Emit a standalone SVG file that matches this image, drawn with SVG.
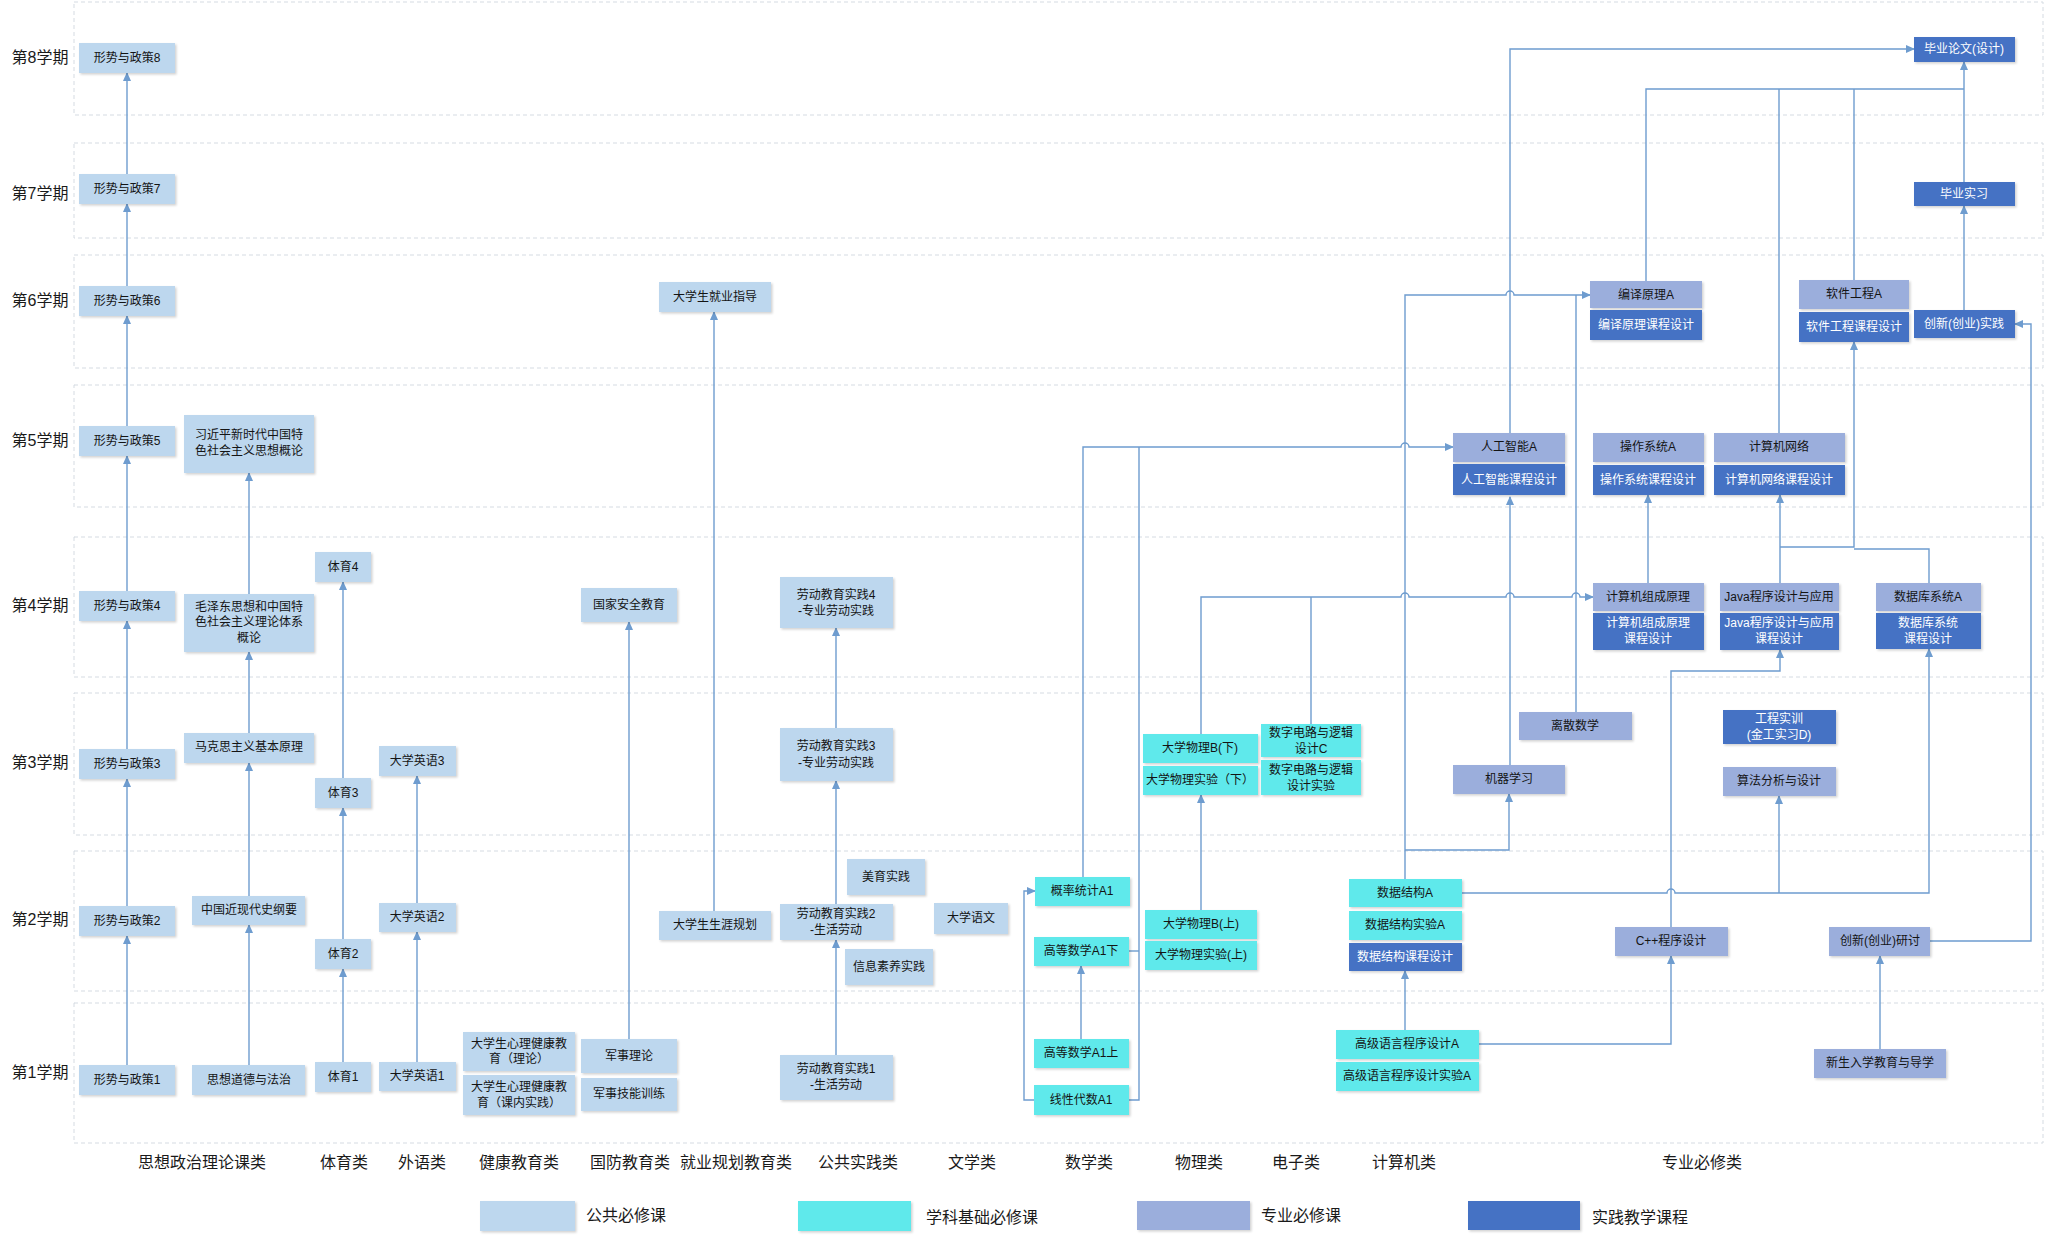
<svg xmlns="http://www.w3.org/2000/svg" width="2048" height="1240" viewBox="0 0 2048 1240">
<defs>
<style>
.band{fill:none;stroke:#D5DBE2;stroke-width:1;stroke-dasharray:4,3}
.pub{fill:#BDD7EE}
.base{fill:#5EE9EB}
.pro{fill:#9BAEDC}
.prac{fill:#4472C4}
rect.n{filter:url(#sh)}
.t{font-family:"Liberation Sans","Noto Sans CJK SC",sans-serif;font-size:12px;fill:#141414;text-anchor:middle;dominant-baseline:central}
.w{fill:#FFFFFF}
.sem{font-family:"Liberation Sans","Noto Sans CJK SC",sans-serif;font-size:16px;fill:#1a1a1a;text-anchor:middle;dominant-baseline:central}
.cat{font-family:"Liberation Sans","Noto Sans CJK SC",sans-serif;font-size:16px;fill:#1a1a1a;text-anchor:middle;dominant-baseline:central}
.leg{font-family:"Liberation Sans","Noto Sans CJK SC",sans-serif;font-size:16px;fill:#1a1a1a;dominant-baseline:central}
.c{fill:none;stroke:#6E9CCF;stroke-width:1.4}
.a{marker-end:url(#ah)}
</style>
<filter id="sh" x="-10%" y="-10%" width="130%" height="140%">
<feDropShadow dx="1.5" dy="1.5" stdDeviation="1" flood-color="#000" flood-opacity="0.18"/>
</filter>
<marker id="ah" markerWidth="9" markerHeight="8" refX="8" refY="4" orient="auto" markerUnits="userSpaceOnUse">
<path d="M0,0 L9,4 L0,8 z" fill="#6E9CCF"/>
</marker>
</defs>
<rect width="2048" height="1240" fill="#FFFFFF"/>

<g id="bands">
<rect class="band" x="74" y="2" width="1969" height="113"/>
<rect class="band" x="74" y="143" width="1969" height="95"/>
<rect class="band" x="74" y="255" width="1969" height="113"/>
<rect class="band" x="74" y="385" width="1969" height="122"/>
<rect class="band" x="74" y="537" width="1969" height="140"/>
<rect class="band" x="74" y="693" width="1969" height="142"/>
<rect class="band" x="74" y="851" width="1969" height="140"/>
<rect class="band" x="74" y="1003" width="1969" height="140"/>
</g>

<g id="semester-labels">
<text class="sem" x="40" y="57">第8学期</text>
<text class="sem" x="40" y="193">第7学期</text>
<text class="sem" x="40" y="300">第6学期</text>
<text class="sem" x="40" y="440">第5学期</text>
<text class="sem" x="40" y="605">第4学期</text>
<text class="sem" x="40" y="762">第3学期</text>
<text class="sem" x="40" y="919">第2学期</text>
<text class="sem" x="40" y="1072">第1学期</text>
</g>

<g id="connectors">
<path class="c a" d="M127,1065 V936"/>
<path class="c a" d="M127,906 V779"/>
<path class="c a" d="M127,749 V621"/>
<path class="c a" d="M127,591 V456"/>
<path class="c a" d="M127,426 V316"/>
<path class="c a" d="M127,286 V204"/>
<path class="c a" d="M127,174 V73"/>
<path class="c a" d="M249,1065 V925"/>
<path class="c a" d="M249,896 V763"/>
<path class="c a" d="M249,733 V652"/>
<path class="c a" d="M249,594 V473"/>
<path class="c a" d="M343,1062 V969"/>
<path class="c a" d="M343,939 V808"/>
<path class="c a" d="M343,778 V582"/>
<path class="c a" d="M417,1062 V932"/>
<path class="c a" d="M417,903 V776"/>
<path class="c a" d="M629,1039 V622"/>
<path class="c a" d="M714,911 V312"/>
<path class="c a" d="M836,1055 V940"/>
<path class="c a" d="M836,904 V781"/>
<path class="c a" d="M836,728 V628"/>
<path class="c a" d="M1081,1039 V966"/>
<path class="c a" d="M1034,1100 H1024 V891 H1035"/>
<path class="c a" d="M1083,877 V447 H1401 a4,4 0 0 1 8,0 H1453"/>
<path class="c" d="M1129,1100 H1139 V447"/>
<path class="c" d="M1129,951 H1139"/>
<path class="c a" d="M1201,910 V795"/>
<path class="c a" d="M1201,734 V597 H1401 a4,4 0 0 1 8,0 H1506 a4,4 0 0 1 8,0 H1572 a4,4 0 0 1 8,0 H1593"/>
<path class="c" d="M1311,724 V597"/>
<path class="c a" d="M1405,1030 V971"/>
<path class="c a" d="M1479,1044 H1671 V956"/>
<path class="c a" d="M1405,879 V295 H1506 a4,4 0 0 1 8,0 H1590"/>
<path class="c a" d="M1405,850 H1509 V794"/>
<path class="c a" d="M1510,765 V497"/>
<path class="c a" d="M1510,433 V49 H1914"/>
<path class="c" d="M1576,712 V295"/>
<path class="c a" d="M1462,893 H1667 a4,4 0 0 1 8,0 H1929 V649"/>
<path class="c a" d="M1779,893 V796"/>
<path class="c a" d="M1671,927 V671 H1780 V650"/>
<path class="c a" d="M1648,583 V495"/>
<path class="c a" d="M1780,583 V495"/>
<path class="c a" d="M1780,547 H1854 V342"/>
<path class="c" d="M1929,583 V549 H1854"/>
<path class="c" d="M1646,281 V89 H1964"/>
<path class="c" d="M1779,433 V89"/>
<path class="c" d="M1854,280 V89"/>
<path class="c a" d="M1964,182 V62"/>
<path class="c a" d="M1964,310 V206"/>
<path class="c a" d="M1930,941 H2031 V324 H2015"/>
<path class="c a" d="M1880,1049 V956"/>
</g>

<g id="n-xszc8"><rect class="n pub" x="79" y="43" width="96" height="30"/><text class="t" x="127" y="58">形势与政策8</text></g>
<g id="n-xszc7"><rect class="n pub" x="79" y="174" width="96" height="30"/><text class="t" x="127" y="189">形势与政策7</text></g>
<g id="n-xszc6"><rect class="n pub" x="79" y="286" width="96" height="30"/><text class="t" x="127" y="301">形势与政策6</text></g>
<g id="n-xszc5"><rect class="n pub" x="79" y="426" width="96" height="30"/><text class="t" x="127" y="441">形势与政策5</text></g>
<g id="n-xszc4"><rect class="n pub" x="79" y="591" width="96" height="30"/><text class="t" x="127" y="606">形势与政策4</text></g>
<g id="n-xszc3"><rect class="n pub" x="79" y="749" width="96" height="30"/><text class="t" x="127" y="764">形势与政策3</text></g>
<g id="n-xszc2"><rect class="n pub" x="79" y="906" width="96" height="30"/><text class="t" x="127" y="921">形势与政策2</text></g>
<g id="n-xszc1"><rect class="n pub" x="79" y="1065" width="96" height="30"/><text class="t" x="127" y="1080">形势与政策1</text></g>

<g id="n-xjp"><rect class="n pub" x="184" y="415" width="130" height="58"/><text class="t" x="249" y="435">习近平新时代中国特<tspan x="249" dy="16">色社会主义思想概论</tspan></text></g>
<g id="n-mzd"><rect class="n pub" x="184" y="594" width="130" height="58"/><text class="t" x="249" y="607">毛泽东思想和中国特<tspan x="249" dy="15">色社会主义理论体系</tspan><tspan x="249" dy="16">概论</tspan></text></g>
<g id="n-mks"><rect class="n pub" x="184" y="733" width="130" height="30"/><text class="t" x="249" y="747">马克思主义基本原理</text></g>
<g id="n-zgjxds"><rect class="n pub" x="192" y="896" width="113" height="29"/><text class="t" x="249" y="910">中国近现代史纲要</text></g>
<g id="n-sxdd"><rect class="n pub" x="192" y="1065" width="113" height="30"/><text class="t" x="249" y="1080">思想道德与法治</text></g>

<g id="n-ty4"><rect class="n pub" x="315" y="552" width="56" height="30"/><text class="t" x="343" y="567">体育4</text></g>
<g id="n-ty3"><rect class="n pub" x="315" y="778" width="56" height="30"/><text class="t" x="343" y="793">体育3</text></g>
<g id="n-ty2"><rect class="n pub" x="315" y="939" width="56" height="30"/><text class="t" x="343" y="954">体育2</text></g>
<g id="n-ty1"><rect class="n pub" x="315" y="1062" width="56" height="30"/><text class="t" x="343" y="1077">体育1</text></g>

<g id="n-yy3"><rect class="n pub" x="379" y="746" width="77" height="30"/><text class="t" x="417" y="761">大学英语3</text></g>
<g id="n-yy2"><rect class="n pub" x="379" y="903" width="77" height="29"/><text class="t" x="417" y="917">大学英语2</text></g>
<g id="n-yy1"><rect class="n pub" x="379" y="1062" width="77" height="29"/><text class="t" x="417" y="1076">大学英语1</text></g>

<g id="n-xl1"><rect class="n pub" x="463" y="1032" width="112" height="39"/><text class="t" x="519" y="1044">大学生心理健康教<tspan x="519" dy="15">育（理论）</tspan></text></g>
<g id="n-xl2"><rect class="n pub" x="463" y="1075" width="112" height="40"/><text class="t" x="519" y="1087">大学生心理健康教<tspan x="519" dy="16">育（课内实践）</tspan></text></g>

<g id="n-gjaq"><rect class="n pub" x="581" y="588" width="96" height="34"/><text class="t" x="629" y="605">国家安全教育</text></g>
<g id="n-jsll"><rect class="n pub" x="581" y="1039" width="96" height="34"/><text class="t" x="629" y="1056">军事理论</text></g>
<g id="n-jsjn"><rect class="n pub" x="581" y="1078" width="96" height="33"/><text class="t" x="629" y="1094">军事技能训练</text></g>

<g id="n-jyzd"><rect class="n pub" x="659" y="282" width="112" height="30"/><text class="t" x="715" y="297">大学生就业指导</text></g>
<g id="n-syg"><rect class="n pub" x="659" y="911" width="112" height="29"/><text class="t" x="715" y="925">大学生生涯规划</text></g>

<g id="n-ld4"><rect class="n pub" x="780" y="577" width="113" height="51"/><text class="t" x="836" y="595">劳动教育实践4<tspan x="836" dy="16">-专业劳动实践</tspan></text></g>
<g id="n-ld3"><rect class="n pub" x="780" y="728" width="113" height="53"/><text class="t" x="836" y="746">劳动教育实践3<tspan x="836" dy="17">-专业劳动实践</tspan></text></g>
<g id="n-ld2"><rect class="n pub" x="780" y="904" width="113" height="36"/><text class="t" x="836" y="914">劳动教育实践2<tspan x="836" dy="16">-生活劳动</tspan></text></g>
<g id="n-ld1"><rect class="n pub" x="780" y="1055" width="113" height="45"/><text class="t" x="836" y="1069">劳动教育实践1<tspan x="836" dy="16">-生活劳动</tspan></text></g>
<g id="n-myjs"><rect class="n pub" x="847" y="859" width="78" height="36"/><text class="t" x="886" y="877">美育实践</text></g>
<g id="n-xxsy"><rect class="n pub" x="845" y="949" width="88" height="36"/><text class="t" x="889" y="967">信息素养实践</text></g>
<g id="n-dxyw"><rect class="n pub" x="934" y="903" width="74" height="31"/><text class="t" x="971" y="918">大学语文</text></g>

<g id="n-gltj"><rect class="n base" x="1035" y="877" width="95" height="29"/><text class="t" x="1082" y="891">概率统计A1</text></g>
<g id="n-gsx"><rect class="n base" x="1034" y="937" width="95" height="29"/><text class="t" x="1081" y="951">高等数学A1下</text></g>
<g id="n-gss"><rect class="n base" x="1034" y="1039" width="95" height="29"/><text class="t" x="1081" y="1053">高等数学A1上</text></g>
<g id="n-xd"><rect class="n base" x="1034" y="1085" width="95" height="30"/><text class="t" x="1081" y="1100">线性代数A1</text></g>

<g id="n-wlbx"><rect class="n base" x="1143" y="734" width="115" height="29"/><text class="t" x="1200" y="748">大学物理B(下)</text></g>
<g id="n-wlsyx"><rect class="n base" x="1143" y="766" width="115" height="29"/><text class="t" x="1200" y="780">大学物理实验（下）</text></g>
<g id="n-szdl"><rect class="n base" x="1261" y="724" width="100" height="33"/><text class="t" x="1311" y="733">数字电路与逻辑<tspan x="1311" dy="16">设计C</tspan></text></g>
<g id="n-szdlsy"><rect class="n base" x="1261" y="760" width="100" height="35"/><text class="t" x="1311" y="770">数字电路与逻辑<tspan x="1311" dy="16">设计实验</tspan></text></g>
<g id="n-wlbs"><rect class="n base" x="1145" y="910" width="112" height="29"/><text class="t" x="1201" y="924">大学物理B(上)</text></g>
<g id="n-wlsys"><rect class="n base" x="1145" y="941" width="112" height="29"/><text class="t" x="1201" y="955">大学物理实验(上)</text></g>

<g id="n-sjjg"><rect class="n base" x="1349" y="879" width="113" height="28"/><text class="t" x="1405" y="893">数据结构A</text></g>
<g id="n-sjjgsy"><rect class="n base" x="1349" y="911" width="113" height="29"/><text class="t" x="1405" y="925">数据结构实验A</text></g>
<g id="n-sjjgkc"><rect class="n prac" x="1349" y="943" width="113" height="28"/><text class="t w" x="1405" y="957">数据结构课程设计</text></g>
<g id="n-gjyy"><rect class="n base" x="1336" y="1030" width="143" height="29"/><text class="t" x="1407" y="1044">高级语言程序设计A</text></g>
<g id="n-gjyysy"><rect class="n base" x="1336" y="1062" width="143" height="29"/><text class="t" x="1407" y="1076">高级语言程序设计实验A</text></g>

<g id="n-rgzn"><rect class="n pro" x="1453" y="433" width="112" height="29"/><text class="t" x="1509" y="447">人工智能A</text></g>
<g id="n-rgznkc"><rect class="n prac" x="1453" y="464" width="112" height="31"/><text class="t w" x="1509" y="480">人工智能课程设计</text></g>
<g id="n-czxt"><rect class="n pro" x="1593" y="433" width="111" height="29"/><text class="t" x="1648" y="447">操作系统A</text></g>
<g id="n-czxtkc"><rect class="n prac" x="1593" y="465" width="111" height="30"/><text class="t w" x="1648" y="480">操作系统课程设计</text></g>
<g id="n-jsjwl"><rect class="n pro" x="1714" y="433" width="131" height="29"/><text class="t" x="1779" y="447">计算机网络</text></g>
<g id="n-jsjwlkc"><rect class="n prac" x="1714" y="465" width="131" height="30"/><text class="t w" x="1779" y="480">计算机网络课程设计</text></g>

<g id="n-byyl"><rect class="n pro" x="1590" y="281" width="112" height="27"/><text class="t" x="1646" y="295">编译原理A</text></g>
<g id="n-byylkc"><rect class="n prac" x="1590" y="310" width="112" height="30"/><text class="t w" x="1646" y="325">编译原理课程设计</text></g>
<g id="n-rjgc"><rect class="n pro" x="1799" y="280" width="110" height="29"/><text class="t" x="1854" y="294">软件工程A</text></g>
<g id="n-rjgckc"><rect class="n prac" x="1799" y="312" width="110" height="30"/><text class="t w" x="1854" y="327">软件工程课程设计</text></g>
<g id="n-cxsj"><rect class="n prac" x="1914" y="310" width="101" height="28"/><text class="t w" x="1964" y="324">创新(创业)实践</text></g>
<g id="n-bysx"><rect class="n prac" x="1914" y="182" width="101" height="24"/><text class="t w" x="1964" y="194">毕业实习</text></g>
<g id="n-bylw"><rect class="n prac" x="1914" y="37" width="101" height="25"/><text class="t w" x="1964" y="49">毕业论文(设计)</text></g>

<g id="n-zcyl"><rect class="n pro" x="1593" y="583" width="111" height="28"/><text class="t" x="1648" y="597">计算机组成原理</text></g>
<g id="n-zcylkc"><rect class="n prac" x="1593" y="613" width="111" height="37"/><text class="t w" x="1648" y="623">计算机组成原理<tspan x="1648" dy="16">课程设计</tspan></text></g>
<g id="n-java"><rect class="n pro" x="1720" y="583" width="119" height="28"/><text class="t" x="1779" y="597">Java程序设计与应用</text></g>
<g id="n-javakc"><rect class="n prac" x="1720" y="613" width="119" height="37"/><text class="t w" x="1779" y="623">Java程序设计与应用<tspan x="1779" dy="16">课程设计</tspan></text></g>
<g id="n-sjk"><rect class="n pro" x="1876" y="583" width="105" height="28"/><text class="t" x="1928" y="597">数据库系统A</text></g>
<g id="n-sjkkc"><rect class="n prac" x="1876" y="613" width="105" height="36"/><text class="t w" x="1928" y="623">数据库系统<tspan x="1928" dy="16">课程设计</tspan></text></g>

<g id="n-lssx"><rect class="n pro" x="1519" y="712" width="113" height="28"/><text class="t" x="1575" y="726">离散数学</text></g>
<g id="n-jqxx"><rect class="n pro" x="1453" y="765" width="112" height="29"/><text class="t" x="1509" y="779">机器学习</text></g>
<g id="n-gcsx"><rect class="n prac" x="1723" y="710" width="113" height="34"/><text class="t w" x="1779" y="719">工程实训<tspan x="1779" dy="16">(金工实习D)</tspan></text></g>
<g id="n-sffx"><rect class="n pro" x="1723" y="767" width="113" height="29"/><text class="t" x="1779" y="781">算法分析与设计</text></g>
<g id="n-cpp"><rect class="n pro" x="1615" y="927" width="113" height="29"/><text class="t" x="1671" y="941">C++程序设计</text></g>
<g id="n-cxyt"><rect class="n pro" x="1829" y="927" width="101" height="29"/><text class="t" x="1880" y="941">创新(创业)研讨</text></g>
<g id="n-xsrx"><rect class="n pro" x="1814" y="1049" width="132" height="29"/><text class="t" x="1880" y="1063">新生入学教育与导学</text></g>

<g id="categories">
<text class="cat" x="202" y="1162">思想政治理论课类</text>
<text class="cat" x="344" y="1162">体育类</text>
<text class="cat" x="422" y="1162">外语类</text>
<text class="cat" x="519" y="1162">健康教育类</text>
<text class="cat" x="630" y="1162">国防教育类</text>
<text class="cat" x="736" y="1162">就业规划教育类</text>
<text class="cat" x="858" y="1162">公共实践类</text>
<text class="cat" x="972" y="1162">文学类</text>
<text class="cat" x="1089" y="1162">数学类</text>
<text class="cat" x="1199" y="1162">物理类</text>
<text class="cat" x="1296" y="1162">电子类</text>
<text class="cat" x="1404" y="1162">计算机类</text>
<text class="cat" x="1702" y="1162">专业必修类</text>
</g>

<g id="legend">
<rect class="n pub" x="480" y="1201" width="95" height="30"/>
<text class="leg" x="586" y="1215">公共必修课</text>
<rect class="n base" x="798" y="1201" width="113" height="30"/>
<text class="leg" x="926" y="1217">学科基础必修课</text>
<rect class="n pro" x="1137" y="1201" width="113" height="29"/>
<text class="leg" x="1261" y="1215">专业必修课</text>
<rect class="n prac" x="1468" y="1201" width="112" height="29"/>
<text class="leg" x="1592" y="1217">实践教学课程</text>
</g>
</svg>
